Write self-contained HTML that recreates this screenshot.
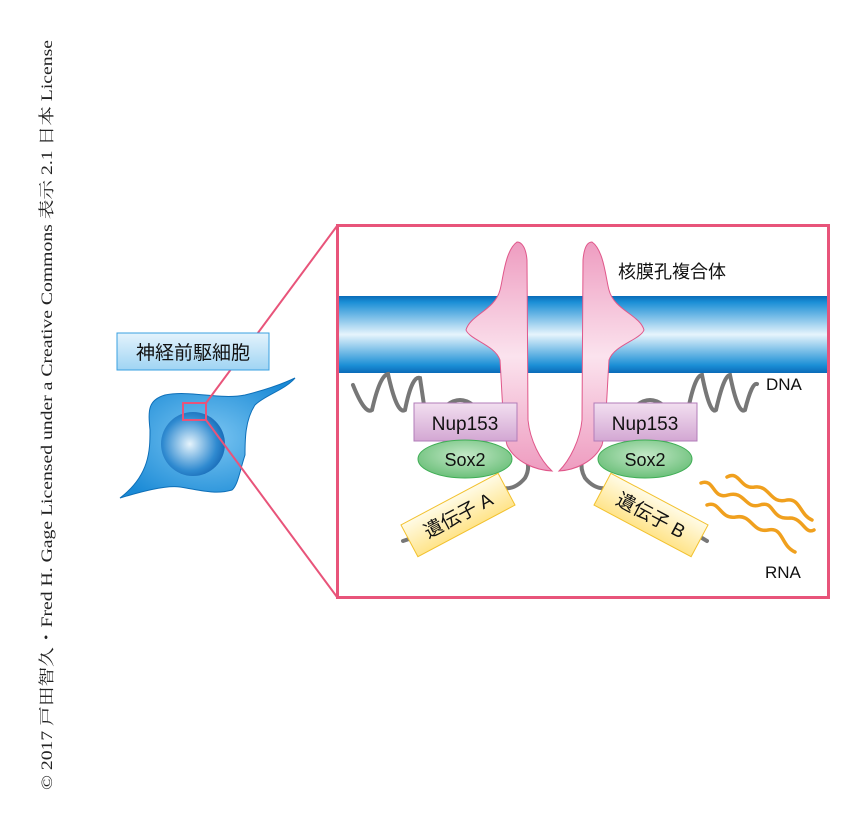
<!DOCTYPE html>
<html><head><meta charset="utf-8"><style>
body{margin:0;background:#fff;}
svg{display:block;}
text{font-family:"Liberation Sans","Noto Sans CJK JP",sans-serif;}
</style></head><body>
<svg width="864" height="825" viewBox="0 0 864 825" xmlns="http://www.w3.org/2000/svg">
<defs>
<linearGradient id="mem" x1="0" y1="0" x2="0" y2="1">
<stop offset="0" stop-color="#0a6bb8"/><stop offset="0.08" stop-color="#1b8fd6"/>
<stop offset="0.5" stop-color="#e6f4fc"/><stop offset="0.9" stop-color="#1b8fd6"/><stop offset="1" stop-color="#0a6bb8"/>
</linearGradient>
<linearGradient id="pore" x1="0" y1="0" x2="0" y2="1">
<stop offset="0" stop-color="#ee9cc0"/><stop offset="0.5" stop-color="#fbe3ee"/><stop offset="1" stop-color="#ee9cc0"/>
</linearGradient>
<linearGradient id="nup" x1="0" y1="0" x2="0" y2="1">
<stop offset="0" stop-color="#f2dff0"/><stop offset="1" stop-color="#d3a7d3"/>
</linearGradient>
<radialGradient id="sox" cx="0.5" cy="0.4" r="0.6">
<stop offset="0" stop-color="#c4e8c8"/><stop offset="1" stop-color="#6cc07a"/>
</radialGradient>
<linearGradient id="gene" x1="0" y1="0" x2="0" y2="1">
<stop offset="0" stop-color="#fffbe6"/><stop offset="1" stop-color="#ffe48a"/>
</linearGradient>
<linearGradient id="lbl" x1="0" y1="0" x2="0" y2="1">
<stop offset="0" stop-color="#e4f3fc"/><stop offset="1" stop-color="#9fd4f3"/>
</linearGradient>
<radialGradient id="cell" cx="0.5" cy="0.5" r="0.6">
<stop offset="0" stop-color="#7cc6f2"/><stop offset="1" stop-color="#1a8ad6"/>
</radialGradient>
<radialGradient id="nuc" cx="0.45" cy="0.5" r="0.6">
<stop offset="0" stop-color="#e6f4fc"/><stop offset="0.7" stop-color="#2f8ad0"/><stop offset="1" stop-color="#1262b0"/>
</radialGradient>
</defs>

<text transform="translate(52,415) rotate(-90)" text-anchor="middle" font-size="16" textLength="750" lengthAdjust="spacingAndGlyphs" style="font-family:'Liberation Serif','Noto Serif CJK SC',serif" fill="#222">© 2017 戸田智久・Fred H. Gage Licensed under a Creative Commons 表示 2.1 日本 License</text>

<!-- cell -->
<path d="M120,498 C150,475 150,450 150,430 C148,410 148,400 165,395 C190,390 220,400 245,395 C265,390 280,385 295,378 C285,390 265,395 255,405 C245,420 245,440 245,455 C240,470 238,485 232,490 C215,495 200,490 180,487 C165,485 140,492 120,498 Z" fill="url(#cell)" stroke="#0d6fb8" stroke-width="1"/>
<circle cx="193" cy="444" r="32" fill="url(#nuc)"/>
<rect x="183" y="403" width="23" height="17" fill="none" stroke="#e8547a" stroke-width="2"/>
<line x1="206" y1="403" x2="337" y2="226" stroke="#e8547a" stroke-width="2"/>
<line x1="206" y1="420" x2="337" y2="597" stroke="#e8547a" stroke-width="2"/>
<rect x="117" y="333" width="152" height="37" fill="url(#lbl)" stroke="#3aa0e0" stroke-width="1"/>
<text x="193" y="359" text-anchor="middle" font-size="19" fill="#111">神経前駆細胞</text>

<!-- frame -->
<rect x="337.5" y="225.5" width="491" height="372" fill="#fff" stroke="#e8547a" stroke-width="3"/>
<rect x="339" y="296" width="488" height="77" fill="url(#mem)"/>

<!-- DNA waves -->
<g fill="none" stroke="#777" stroke-width="4" stroke-linecap="round">
<path d="M353,385 Q365,415 372,410 Q380,375 388,374 Q397,415 405,410 Q412,375 420,378 L424,405"/>
<path d="M688,410 Q695,375 702,375 Q710,415 716,410 Q724,375 730,375 Q738,415 745,410 Q752,382 757,384"/>
<path d="M447,405 Q460,395 473,405"/>
<path d="M637,405 Q650,395 663,405"/>
<path d="M513,441 Q535,460 525,478 Q515,490 503,488"/>
<path d="M593,441 Q575,460 585,478 Q595,490 607,488"/>
<path d="M403,541 L412,538"/>
<path d="M697,535 L707,541"/>
</g>

<!-- pores -->
<path d="M517,242 C505,250 503,280 500,290 C495,310 470,315 466,330 C470,340 495,345 500,360 C502,390 503,430 507,445 C515,462 535,470 552,471 C540,460 530,440 528,420 L527,260 C526,248 522,242 517,242 Z" fill="url(#pore)" stroke="#e0578a" stroke-width="1"/>
<path d="M592,242 C604,250 606,280 609,290 C614,310 640,315 644,330 C640,340 614,345 609,360 C607,390 606,430 602,445 C594,462 575,470 559,471 C570,460 580,440 582,420 L583,260 C584,248 587,242 592,242 Z" fill="url(#pore)" stroke="#e0578a" stroke-width="1"/>

<!-- Nup153 -->
<rect x="414" y="403" width="103" height="38" fill="url(#nup)" stroke="#b27cb8" stroke-width="1"/>
<text x="465" y="430" text-anchor="middle" font-size="19" fill="#111">Nup153</text>
<rect x="594" y="403" width="103" height="38" fill="url(#nup)" stroke="#b27cb8" stroke-width="1"/>
<text x="645" y="430" text-anchor="middle" font-size="19" fill="#111">Nup153</text>

<ellipse cx="465" cy="459" rx="47" ry="19" fill="url(#sox)" stroke="#3fae55" stroke-width="1"/>
<text x="465" y="466" text-anchor="middle" font-size="18" fill="#111">Sox2</text>
<ellipse cx="645" cy="459" rx="47" ry="19" fill="url(#sox)" stroke="#3fae55" stroke-width="1"/>
<text x="645" y="466" text-anchor="middle" font-size="18" fill="#111">Sox2</text>

<!-- genes -->
<g transform="translate(458,515) rotate(-28)">
<rect x="-55" y="-18" width="110" height="36" fill="url(#gene)" stroke="#f2c12e" stroke-width="1"/>
<text x="0" y="7" text-anchor="middle" font-size="19" fill="#111">遺伝子 A</text>
</g>
<g transform="translate(651,515) rotate(28)">
<rect x="-55" y="-18" width="110" height="36" fill="url(#gene)" stroke="#f2c12e" stroke-width="1"/>
<text x="0" y="7" text-anchor="middle" font-size="19" fill="#111">遺伝子 B</text>
</g>

<!-- RNA -->
<g fill="none" stroke="#f0a01e" stroke-width="3.5" stroke-linecap="round">
<path d="M701,483 C715,478 712,500 728,495 C745,490 745,510 760,505 C775,500 770,520 790,518 C803,518 805,535 814,530"/>
<path d="M727,477 C740,470 740,490 755,487 C770,485 770,505 787,500 C800,498 800,515 812,520"/>
<path d="M707,505 C720,500 720,520 736,517 C752,514 752,533 768,530 C784,527 780,545 795,552"/>
</g>

<text x="766" y="390" font-size="17" fill="#111">DNA</text>
<text x="765" y="578" font-size="17" fill="#111">RNA</text>
<text x="618" y="278" font-size="18" fill="#111">核膜孔複合体</text>
</svg>
</body></html>
